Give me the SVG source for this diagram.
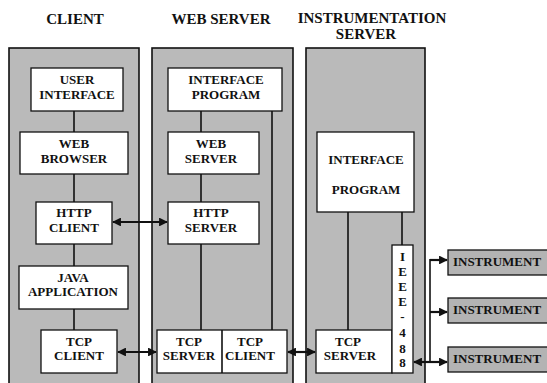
<svg xmlns="http://www.w3.org/2000/svg" width="547" height="383" viewBox="0 0 547 383">
<defs>
<style>
.panel{fill:#bababa;stroke:#111;stroke-width:1.6}
.box{fill:#fff;stroke:#111;stroke-width:1.3}
.inst{fill:#b3b3b3;stroke:#111;stroke-width:1.3}
.t{font-family:"Liberation Serif","Times New Roman",serif;font-weight:bold;font-size:13px;fill:#111;text-anchor:middle}
.h{font-size:15px}
.ln{stroke:#111;stroke-width:1.6;fill:none}
.ar{stroke:#111;stroke-width:2.2;fill:none}
</style>
<marker id="ah" viewBox="0 0 10 10" refX="9" refY="5" markerWidth="4" markerHeight="4" orient="auto-start-reverse" markerUnits="strokeWidth">
<path d="M0,0 L10,5 L0,10 z" fill="#111"/>
</marker>
</defs>
<rect width="547" height="383" fill="#fff"/>

<g id="titles">
<text class="t h" x="75" y="24">CLIENT</text>
<text class="t h" x="221" y="24">WEB SERVER</text>
<text class="t h" x="372" y="22.5">INSTRUMENTATION</text>
<text class="t h" x="366" y="39">SERVER</text>
</g>

<g id="panel-client"><rect class="panel" x="9" y="48" width="130" height="345"/></g>
<g id="panel-web"><rect class="panel" x="152" y="48" width="141" height="345"/></g>
<g id="panel-inst"><rect class="panel" x="306" y="48" width="119" height="345"/></g>

<g id="connectors">
<path class="ln" d="M74,111 V132 M74,174 V202 M74,244 V266 M74,309 V330"/>
<path class="ln" d="M201,111 V132 M201,174 V202 M201,244 V330 M272,111 V330"/>
<path class="ln" d="M348,212 V330 M402,212 V245"/>
<path class="ar" d="M113,222 H167" marker-start="url(#ah)" marker-end="url(#ah)"/>
<path class="ar" d="M118,352 H156" marker-start="url(#ah)" marker-end="url(#ah)"/>
<path class="ar" d="M288,352 H315" marker-start="url(#ah)" marker-end="url(#ah)"/>
<path class="ar" d="M414,362 H430" marker-start="url(#ah)"/>
<path class="ln" d="M430,259 V362"/>
<path class="ar" d="M430,260 H447" marker-end="url(#ah)"/>
<path class="ar" d="M430,312 H447" marker-end="url(#ah)"/>
<path class="ar" d="M430,362 H447" marker-end="url(#ah)"/>
</g>

<g id="user-interface"><rect class="box" x="31" y="68" width="92" height="43"/>
<text class="t" x="77" y="84">USER</text><text class="t" x="77" y="98.5">INTERFACE</text></g>
<g id="web-browser"><rect class="box" x="20" y="132" width="108" height="42"/>
<text class="t" x="74" y="148">WEB</text><text class="t" x="74" y="163">BROWSER</text></g>
<g id="http-client"><rect class="box" x="36" y="202" width="76" height="42"/>
<text class="t" x="74" y="217">HTTP</text><text class="t" x="74" y="232">CLIENT</text></g>
<g id="java-application"><rect class="box" x="19" y="266" width="109" height="43"/>
<text class="t" x="73" y="282">JAVA</text><text class="t" x="73" y="296">APPLICATION</text></g>
<g id="tcp-client"><rect class="box" x="41" y="330" width="76" height="43"/>
<text class="t" x="79" y="346">TCP</text><text class="t" x="79" y="360">CLIENT</text></g>

<g id="interface-program-web"><rect class="box" x="168" y="68" width="114" height="43"/>
<text class="t" x="226" y="84">INTERFACE</text><text class="t" x="226" y="98.5">PROGRAM</text></g>
<g id="web-server"><rect class="box" x="168" y="132" width="91" height="42"/>
<text class="t" x="211" y="148">WEB</text><text class="t" x="211" y="163">SERVER</text></g>
<g id="http-server"><rect class="box" x="168" y="202" width="91" height="42"/>
<text class="t" x="211" y="217">HTTP</text><text class="t" x="211" y="232">SERVER</text></g>
<g id="tcp-server-client"><rect class="box" x="157" y="330" width="130" height="43"/>
<line class="ln" x1="222" y1="330" x2="222" y2="373" stroke-width="1"/>
<text class="t" x="189" y="346">TCP</text><text class="t" x="189" y="360">SERVER</text>
<text class="t" x="250" y="346">TCP</text><text class="t" x="250" y="360">CLIENT</text></g>

<g id="interface-program-inst"><rect class="box" x="317" y="132" width="97" height="80"/>
<text class="t" x="366" y="164">INTERFACE</text><text class="t" x="366" y="194">PROGRAM</text></g>
<g id="tcp-server-inst"><rect class="box" x="316" y="330" width="76" height="43"/>
<text class="t" x="348" y="346">TCP</text><text class="t" x="350" y="360">SERVER</text></g>
<g id="ieee-488"><rect class="box" x="392" y="245" width="21" height="128"/>
<text class="t" x="402.5" y="261">I</text><text class="t" x="402.5" y="276">E</text>
<text class="t" x="402.5" y="291">E</text><text class="t" x="402.5" y="306">E</text>
<text class="t" x="402.5" y="321">-</text><text class="t" x="402.5" y="337">4</text>
<text class="t" x="402.5" y="353">8</text><text class="t" x="402.5" y="367">8</text></g>

<g id="instrument-1"><rect class="inst" x="448" y="250" width="105" height="25"/>
<text class="t" x="497" y="266">INSTRUMENT</text></g>
<g id="instrument-2"><rect class="inst" x="448" y="298" width="105" height="25"/>
<text class="t" x="497" y="314">INSTRUMENT</text></g>
<g id="instrument-3"><rect class="inst" x="448" y="347" width="105" height="25"/>
<text class="t" x="497" y="363">INSTRUMENT</text></g>
</svg>
